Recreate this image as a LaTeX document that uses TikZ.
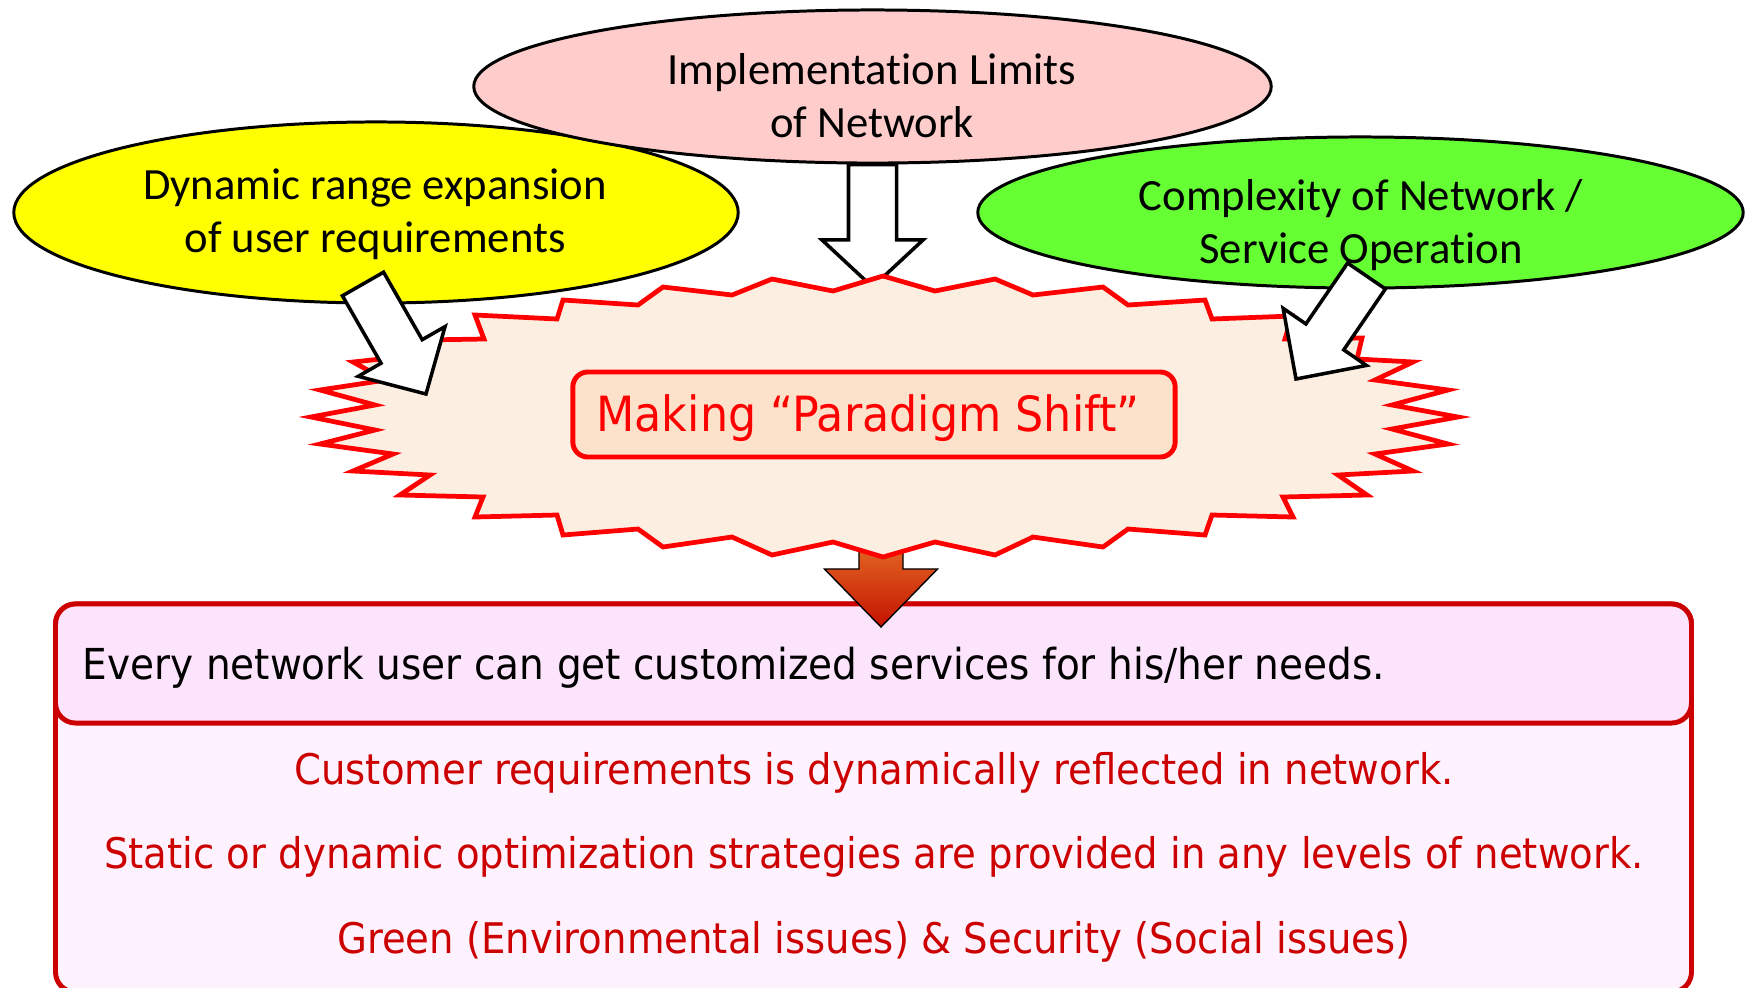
\documentclass[tikz,border=0pt]{standalone}
\usepackage{fontspec}
\newfontfamily\calibri[Ligatures=NoCommon]{Carlito}
\newfontfamily\tahoma[FakeStretch=0.915]{DejaVu Sans}
\usetikzlibrary{positioning,shapes,calc}

\definecolor{BurstRed}{RGB}{255,0,0}
\definecolor{BurstFill}{RGB}{253,238,226}
\definecolor{ShiftFill}{RGB}{252,226,203}
\definecolor{PanelRed}{RGB}{204,0,0}
\definecolor{HeadFill}{RGB}{252,228,252}
\definecolor{BodyFill}{RGB}{253,242,253}
\definecolor{LimitsPink}{RGB}{255,204,204}
\definecolor{UserYellow}{RGB}{255,255,0}
\definecolor{ComplexGreen}{RGB}{102,255,51}
\definecolor{ArrowTop}{RGB}{232,118,42}
\definecolor{ArrowBottom}{RGB}{196,18,0}

\tikzstyle{bubble}=[
	ellipse,
	draw=black,
	line width=0.85pt,
	inner sep=0pt
	]
\tikzstyle{bubbletext}=[
	font=\calibri\fontsize{12.7}{15.08}\selectfont,
	align=center,
	inner sep=0pt
	]
\tikzstyle{burst}=[draw=BurstRed, fill=BurstFill, line width=1.35pt, line join=miter]
\tikzstyle{shiftbox}=[
	rectangle,
	rounded corners=0.15cm,
	draw=BurstRed,
	fill=ShiftFill,
	line width=1.4pt,
	minimum width=6.02cm,
	minimum height=0.85cm,
	text=BurstRed,
	font=\tahoma\fontsize{13.8}{16}\selectfont,
	text height=0.34cm,
	text depth=0cm
	]
\tikzstyle{panel}=[rectangle, rounded corners=0.2cm, draw=PanelRed, line width=1.4pt, minimum width=16.35cm]
\tikzstyle{result}=[anchor=base, inner sep=0pt, text=PanelRed, font=\tahoma\fontsize{12}{14.4}\selectfont]
\tikzstyle{hollow}=[draw=black, fill=white, line width=1pt, line join=miter]

% block arrow: tail, tip, half shaft, half head, head length
\newcommand{\fatarrow}[6][]{%
	\coordinate (fatbase) at ($(#3)!#6!(#2)$);
	\draw[#1] ($(#2)!#4!90:(#3)$) -- ($(fatbase)!#4!90:(#3)$) -- ($(fatbase)!#5!90:(#3)$) -- (#3)
		-- ($(fatbase)!#5!-90:(#3)$) -- ($(fatbase)!#4!-90:(#3)$) -- ($(#2)!#4!-90:(#3)$) -- cycle;}

\begin{document}
\begin{tikzpicture}[x=0.01cm, y=-0.01cm]
	\useasboundingbox (0,0) rectangle (1745,987);

		\node (Outcome) [panel, fill=BodyFill, minimum height=3.88cm] at (873.5,798) {};
		\node (Header) [panel, fill=HeadFill, minimum height=1.19cm] at (873.5,663.5) {};

		\node (Needs) [anchor=base west, inner sep=0pt, font=\tahoma\fontsize{12.13}{14.4}\selectfont] at (82,679)
			{Every network user can get customized services for his/her needs.};
		\node (Reflect) [result] at (874,784) {Customer requirements is dynamically reflected in network.};
		\node (Optimize) [result] at (874,868) {Static or dynamic optimization strategies are provided in any levels of network.};
		\node (GreenSec) [result] at (874,953) {Green (Environmental issues) \& Security (Social issues)};

		\node (UserRange) [bubble, fill=UserYellow, minimum width=7.24cm, minimum height=1.81cm] at (376,212.5) {};
		\node (Limits) [bubble, fill=LimitsPink, minimum width=7.97cm, minimum height=1.53cm] at (872.5,86.5) {};
		\node (Complexity) [bubble, fill=ComplexGreen, minimum width=7.65cm, minimum height=1.51cm] at (1360.5,212.5) {};

		\node (UserRangeText) [bubbletext] at (375,215) {\strut Dynamic range expansion\\ \strut of user requirements};
		\node (LimitsText) [bubbletext] at (872,100) {\strut Implementation Limits\\ \strut of Network};
		\node (ComplexityText) [bubbletext] at (1361,226) {\strut Complexity of Network /\\ \strut Service Operation};

		\coordinate (BurstTop) at (872.5,287);
		\fatarrow[hollow]{Limits.south}{BurstTop}{0.24cm}{0.505cm}{0.47cm}

		\coordinate (ShiftTail) at (881,530);
		\coordinate (OutcomeTip) at (881,627);
		\fatarrow[draw=black, line width=0.4pt, top color=ArrowTop, bottom color=ArrowBottom]{ShiftTail}{OutcomeTip}{0.22cm}{0.565cm}{0.58cm}

		\draw[burst] (311,417) -- (375,405) -- (320,390) -- (386,380) -- (353,362) -- (400,357) -- (423,340)
			-- (484,339) -- (475,315) -- (557,319) -- (563,300) -- (638,305) -- (663,287) -- (732,295)
			-- (772,279) -- (833,291) -- (883,276) -- (935,291) -- (995,279) -- (1033,295) -- (1103,287)
			-- (1128,305) -- (1205,300) -- (1212,319) -- (1292,316) -- (1285,339) -- (1362,338) -- (1357,359)
			-- (1413,362) -- (1375,380) -- (1448,390) -- (1392,405) -- (1458,417) -- (1392,429) -- (1448,444)
			-- (1375,454) -- (1413,471) -- (1338,475) -- (1367,495) -- (1283,497) -- (1293,517) -- (1212,515)
			-- (1205,535) -- (1128,529) -- (1103,547) -- (1033,537) -- (995,555) -- (935,542) -- (883,557)
			-- (833,542) -- (772,555) -- (732,537) -- (663,547) -- (638,529) -- (563,535) -- (557,515)
			-- (475,517) -- (483,497) -- (400,495) -- (430,475) -- (353,471) -- (393,454) -- (320,444)
			-- (375,430) -- cycle;

		\node (Shift) [shiftbox] at (874,414.5) {Making “Paradigm Shift”\hspace*{0.12cm}};

		\coordinate (UserRangeTail) at (363,284);
		\coordinate (BurstLeft) at (426,394);
		\fatarrow[hollow]{UserRangeTail}{BurstLeft}{0.237cm}{0.50cm}{0.49cm}

		\coordinate (ComplexityTail) at (1366.5,276);
		\coordinate (BurstRight) at (1296,379);
		\fatarrow[hollow]{ComplexityTail}{BurstRight}{0.229cm}{0.505cm}{0.51cm}

	\end{tikzpicture}
\end{document}
